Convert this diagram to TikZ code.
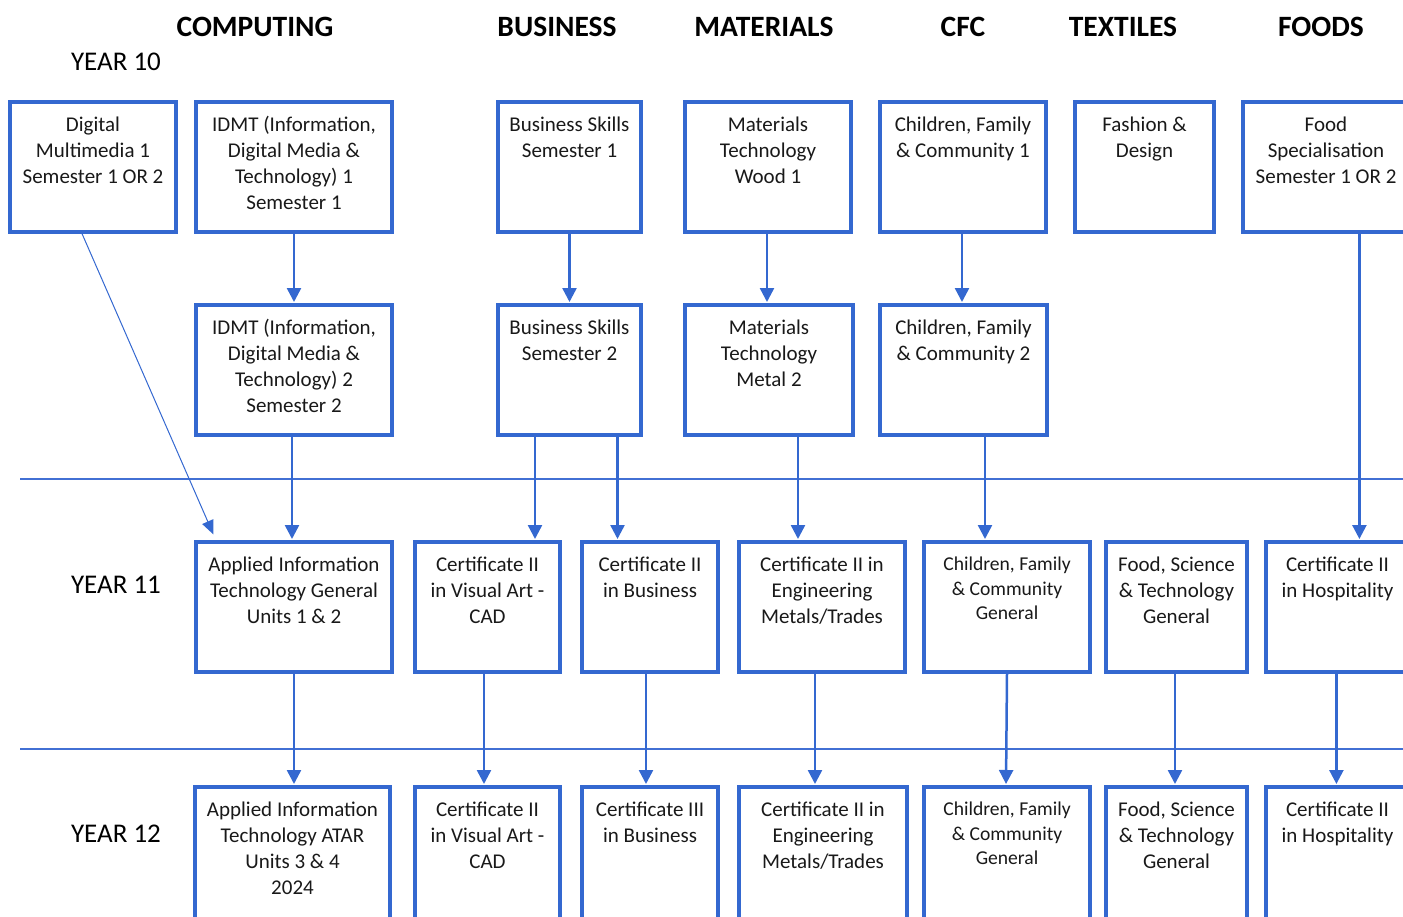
\documentclass[tikz,border=0pt]{standalone}
\usepackage{fontspec}
\setmainfont{Carlito}
\usetikzlibrary{arrows.meta}
\definecolor{boxblue}{RGB}{52,104,208}
\definecolor{ruleblue}{RGB}{66,112,212}
\tikzset{
  cbox/.style={draw=boxblue, line width=3.2pt, fill=white, rectangle, inner sep=0pt},
  ctext/.style={anchor=north, inner sep=0pt, align=center, text=black!90,
                font=\fontsize{21}{26}\selectfont},
  csmall/.style={font=\fontsize{19.6}{24.5}\selectfont},
  head/.style={anchor=base, font=\fontsize{29.5}{34}\selectfont\bfseries},
  yearlbl/.style={anchor=base, font=\fontsize{27}{32}\selectfont},
  arr/.style={draw=boxblue, line width=2.5pt, shorten >=1.4pt,
              -{Triangle[width=14pt,length=14pt]}},
  thinarr/.style={draw=boxblue, line width=1pt, -{Triangle[width=12pt,length=14pt]}},
  rule/.style={draw=ruleblue, line width=1.1pt}
}
% course box: [text style] name, left, top, right, bottom, text
\newcommand\cbox[7][]{%
  \node[cbox, minimum width={#5-#3}, minimum height={#6-#4}]
    (#2) at ({(#3+#5)/2},{(#4+#6)/2}) {};
  \node[ctext,#1] (#2-t) at ([yshift=-13pt]#2.north) {\strut #7};}
\begin{document}
\begin{tikzpicture}[x=1pt,y=-1pt]
\useasboundingbox (0,0) rectangle (1403,916);
\clip (0,0) rectangle (1403,916);

% subject headings and year labels
\node[head] (hcomp) at (255,36) {COMPUTING};
\node[head] (hbus)  at (557,36) {BUSINESS};
\node[head] (hmat)  at (764,36) {MATERIALS};
\node[head] (hcfc)  at (963,36) {CFC};
\node[head] (htex)  at (1123,36) {TEXTILES};
\node[head] (hfood) at (1321,36) {FOODS};
\node[yearlbl] (y10) at (116,70) {YEAR 10};
\node[yearlbl] (y11) at (116,593) {YEAR 11};
\node[yearlbl] (y12) at (116,842) {YEAR 12};

% year dividers
\coordinate (r1a) at (20,479);  \coordinate (r1b) at (1403,479);
\coordinate (r2a) at (20,749);  \coordinate (r2b) at (1403,749);
\draw[rule] (r1a) -- (r1b);
\draw[rule] (r2a) -- (r2b);

% Year 10, semester 1
\cbox{dm}{10}{102}{176}{232}{Digital\\Multimedia 1\\Semester 1 OR 2}
\cbox{id1}{196}{102}{392}{232}{IDMT (Information,\\Digital Media \&\\Technology) 1\\Semester 1}
\cbox{bs1}{498}{102}{641}{232}{Business Skills\\Semester 1}
\cbox{mt1}{685}{102}{851}{232}{Materials\\Technology\\Wood 1}
\cbox{cf1}{880}{102}{1046}{232}{Children, Family\\\& Community 1}
\cbox{fd}{1075}{102}{1214}{232}{Fashion \&\\Design}
\cbox{fs}{1243}{102}{1409}{232}{Food\\Specialisation\\Semester 1 OR 2}

% Year 10, semester 2
\cbox{id2}{196}{305}{392}{435}{IDMT (Information,\\Digital Media \&\\Technology) 2\\Semester 2}
\cbox{bs2}{498}{305}{641}{435}{Business Skills\\Semester 2}
\cbox{mt2}{685}{305}{853}{435}{Materials\\Technology\\Metal 2}
\cbox{cf2}{880}{305}{1047}{435}{Children, Family\\\& Community 2}

% Year 11
\cbox{ait}{196}{542}{392}{672}{Applied Information\\Technology General\\Units 1 \& 2}
\cbox{va}{415}{542}{560}{672}{Certificate II\\in Visual Art -\\CAD}
\cbox{cb}{582}{542}{718}{672}{Certificate II\\in Business}
\cbox{en}{739}{542}{905}{672}{Certificate II in\\Engineering\\Metals/Trades}
\cbox[csmall]{cg}{924}{542}{1090}{672}{Children, Family\\\& Community\\General}
\cbox{ft}{1106}{542}{1247}{672}{Food, Science\\\& Technology\\General}
\cbox{ho}{1266}{542}{1409}{672}{Certificate II\\in Hospitality}

% Year 12
\cbox{at}{195}{787}{390}{920}{Applied Information\\Technology ATAR\\Units 3 \& 4\\2024}
\cbox{va2}{415}{787}{560}{920}{Certificate II\\in Visual Art -\\CAD}
\cbox{c3}{582}{787}{718}{920}{Certificate III\\in Business}
\cbox{en2}{739}{787}{907}{920}{Certificate II in\\Engineering\\Metals/Trades}
\cbox[csmall]{cg2}{924}{787}{1090}{920}{Children, Family\\\& Community\\General}
\cbox{ft2}{1106}{787}{1247}{920}{Food, Science\\\& Technology\\General}
\cbox{ho2}{1266}{787}{1409}{920}{Certificate II\\in Hospitality}

% pathways
\draw[arr] (id1.south) -- (id2.north);
\draw[arr] (bs1.south) -- (bs2.north);
\draw[arr] ([xshift=-1pt]mt1.south) -- ([xshift=-1pt]mt1.south |- mt2.north);
\draw[arr] ([xshift=-1pt]cf1.south) -- ([xshift=-1pt]cf1.south |- cf2.north);
\draw[thinarr] ([xshift=-11pt]dm.south) -- ([xshift=19pt,yshift=6pt]ait.north west);
\draw[arr] ([xshift=-2pt]id2.south) -- ([xshift=-2pt]id2.south |- ait.north);
\draw[arr] ([xshift=-34.5pt]bs2.south) -- ([xshift=-34.5pt]bs2.south |- va.north);
\draw[arr] ([xshift=48pt]bs2.south) -- ([xshift=48pt]bs2.south |- cb.north);
\draw[arr] ([xshift=29pt]mt2.south) -- ([xshift=29pt]mt2.south |- en.north);
\draw[arr] ([xshift=21.5pt]cf2.south) -- ([xshift=21.5pt]cf2.south |- cg.north);
\draw[arr] ([xshift=118pt]fs.south west) -- ([xshift=118pt]fs.south west |- ho.north);
\draw[arr] (ait.south) -- (ait.south |- at.north);
\draw[arr] ([xshift=-3.5pt]va.south) -- ([xshift=-3.5pt]va.south |- va2.north);
\draw[arr] ([xshift=-4pt]cb.south) -- ([xshift=-4pt]cb.south |- c3.north);
\draw[arr] ([xshift=-7pt]en.south) -- ([xshift=-7pt]en.south |- en2.north);
\draw[arr] (cg.south) -- ([xshift=-1pt]cg2.north);
\draw[arr] ([xshift=-1.5pt]ft.south) -- ([xshift=-1.5pt]ft.south |- ft2.north);
\draw[arr] ([xshift=72pt]ho.south west) -- ([xshift=72pt]ho.south west |- ho2.north);
\end{tikzpicture}
\end{document}
